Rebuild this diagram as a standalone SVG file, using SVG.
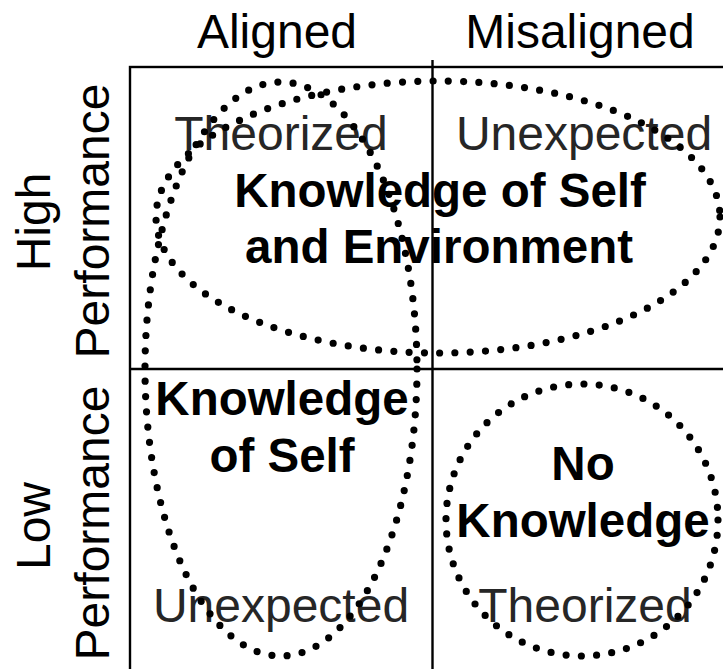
<svg xmlns="http://www.w3.org/2000/svg" width="723" height="669" viewBox="0 0 723 669">
<style>
text{font-family:"Liberation Sans",Arial,sans-serif;font-size:48px;text-anchor:middle}
.h{fill:#000}
.q{fill:#262626}
.b{font-weight:bold;fill:#000;font-size:47.5px}
.grid{stroke:#000;stroke-width:2.4;fill:none}
.dot{fill:none;stroke:#000;stroke-width:7.2;stroke-linecap:round;stroke-dasharray:0 15.3}
</style>
<rect width="723" height="669" fill="#fff"/>
<g id="headers">
<text class="h" x="277" y="48">Aligned</text>
<text class="h" x="580" y="48">Misaligned</text>
<text class="h" transform="translate(50,222) rotate(-90)">High</text>
<text class="h" transform="translate(109,221) rotate(-90)">Performance</text>
<text class="h" transform="translate(50,526) rotate(-90)">Low</text>
<text class="h" transform="translate(109,523) rotate(-90)">Performance</text>
</g>
<g id="grid">
<rect class="grid" x="130" y="67" width="606" height="604"/>
<line class="grid" x1="432.5" y1="60" x2="432.5" y2="671"/>
<line class="grid" x1="130" y1="369" x2="736" y2="369"/>
</g>
<g id="cell-high-aligned"><text class="q" x="281" y="150">Theorized</text></g>
<g id="cell-high-misaligned"><text class="q" x="584" y="150">Unexpected</text></g>
<g id="cell-low-aligned"><text class="q" x="281" y="622">Unexpected</text></g>
<g id="cell-low-misaligned"><text class="q" x="585" y="622">Theorized</text></g>
<g id="knowledge-self-env">
<text class="b" x="440" y="207">Knowledge of Self</text>
<text class="b" x="439" y="263">and Environment</text>
<ellipse class="dot" cx="438" cy="217" rx="282" ry="136"/>
</g>
<g id="knowledge-self">
<text class="b" x="282" y="415">Knowledge</text>
<text class="b" x="282" y="472">of Self</text>
<ellipse class="dot" cx="281" cy="369" rx="136" ry="287"/>
</g>
<g id="no-knowledge">
<text class="b" x="583" y="480">No</text>
<text class="b" x="583" y="537">Knowledge</text>
<circle class="dot" cx="582" cy="520" r="136"/>
</g>
</svg>
